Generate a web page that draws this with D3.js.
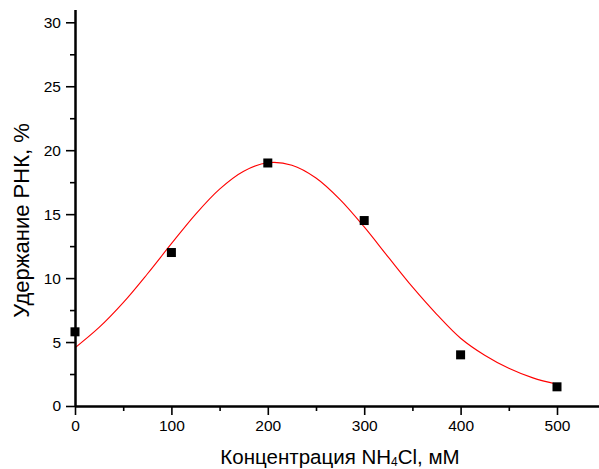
<!DOCTYPE html>
<html><head><meta charset="utf-8">
<script src="https://cdn.jsdelivr.net/npm/d3@7"></script>
<style>body{margin:0;background:#fff}svg{display:block}text{font-family:Arial,"Liberation Sans",sans-serif}</style>
</head><body>
<svg id="c" width="599" height="469"></svg>
<script>
// measured points
const conc = [0, 100, 200, 300, 400, 500];
const retention = [5.8, 12.0, 19.0, 14.5, 4.0, 1.5];
// fitted curve
const fitX = [0, 25, 50, 75, 100, 125, 150, 175, 200, 225, 250, 275, 300, 325, 350, 375, 400, 425, 450, 475, 500];
const fitY = [4.55, 6.14, 8.08, 10.32, 12.69, 14.99, 16.96, 18.36, 19.02, 18.83, 17.83, 16.14, 14.0, 11.64, 9.31, 7.19, 5.3, 3.97, 2.95, 2.2, 1.7];
const xTicks = [0, 100, 200, 300, 400, 500];
const xMinor = [50, 150, 250, 350, 450];
const yTicks = [0, 5, 10, 15, 20, 25, 30];
const yMinor = [2.5, 7.5, 12.5, 17.5, 22.5, 27.5];

const svg = d3.select("#c");
const x = d3.scaleLinear().domain([0, 545]).range([75, 75 + 545 * 0.964]);
const y = d3.scaleLinear().domain([0, 31]).range([406, 406 - 31 * 12.79]);

// curve
const line = d3.line().x((d, i) => x(fitX[i])).y(d => y(d)).curve(d3.curveCatmullRom);
svg.append("path").attr("d", line(fitY)).attr("fill", "none").attr("stroke", "#ff0000").attr("stroke-width", 1.1);

// axes
const xAxis = d3.axisBottom(x).tickValues(xTicks).tickSize(9).tickSizeOuter(0).tickPadding(5);
svg.append("g").attr("transform", "translate(0,406)").call(xAxis);
const xAxisMinor = d3.axisBottom(x).tickValues(xMinor).tickSize(5).tickSizeOuter(0).tickFormat("");
svg.append("g").attr("transform", "translate(0,406)").call(xAxisMinor);

const yAxis = d3.axisLeft(y).tickValues(yTicks).tickSize(9).tickSizeOuter(0).tickPadding(5);
svg.append("g").attr("transform", "translate(75,0)").call(yAxis);
const yAxisMinor = d3.axisLeft(y).tickValues(yMinor).tickSize(5).tickSizeOuter(0).tickFormat("");
svg.append("g").attr("transform", "translate(75,0)").call(yAxisMinor);

svg.selectAll(".domain").attr("stroke", "#000").attr("stroke-width", 2);
svg.selectAll(".tick line").attr("stroke", "#000").attr("stroke-width", 1.6);
svg.selectAll(".tick text").attr("font-size", 15.5).attr("fill", "#000")
  .attr("font-family", "Arial, 'Liberation Sans', sans-serif");

// markers
svg.append("g").selectAll("rect").data(conc).join("rect")
  .attr("x", (d) => x(d) - 4.5).attr("y", (d, i) => y(retention[i]) - 4.5)
  .attr("width", 9).attr("height", 9).attr("fill", "#000");

// axis titles
const xt = svg.append("text").attr("x", 340).attr("y", 464).attr("text-anchor", "middle")
  .attr("font-size", 20.5).attr("fill", "#000");
xt.append("tspan").text("Концентрация NH");
xt.append("tspan").text("4").attr("font-size", 12).attr("dy", 2);
xt.append("tspan").text("Cl, мМ").attr("dy", -2);

svg.append("text").attr("transform", "translate(29,220.5) rotate(-90)").attr("text-anchor", "middle")
  .attr("font-size", 22).attr("fill", "#000").text("Удержание РНК, %");
</script>
</body></html>
